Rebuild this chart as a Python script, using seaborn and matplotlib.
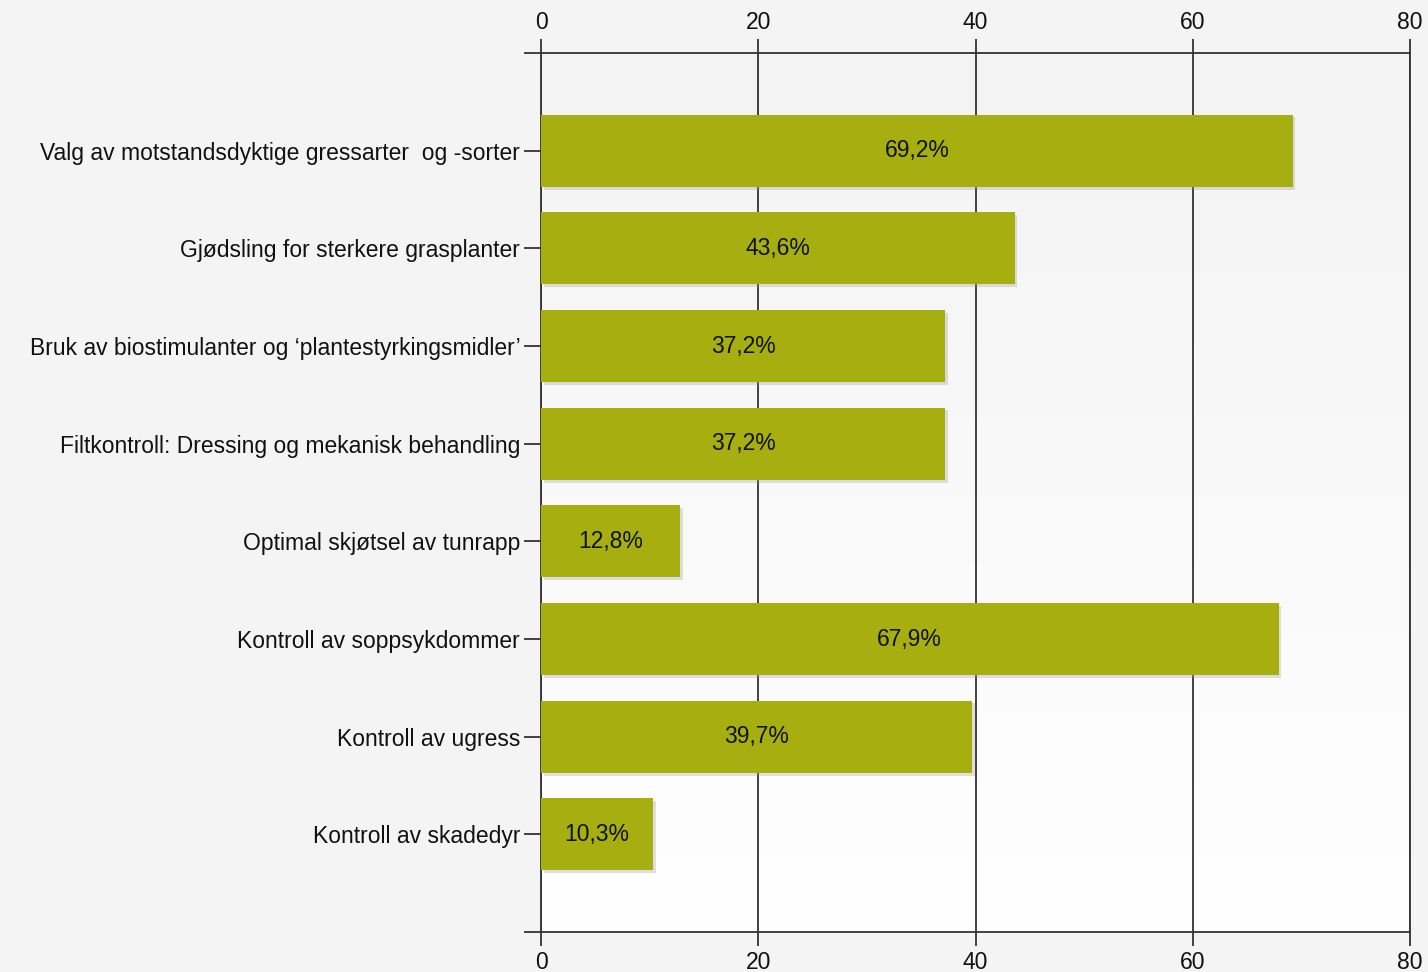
import seaborn as sns
import matplotlib.pyplot as plt
import matplotlib.patheffects as pe
import numpy as np
import pandas as pd

categories = [
    'Valg av motstandsdyktige gressarter  og -sorter',
    'Gjødsling for sterkere grasplanter',
    'Bruk av biostimulanter og \u2018plantestyrkingsmidler\u2019',
    'Filtkontroll: Dressing og mekanisk behandling',
    'Optimal skjøtsel av tunrapp',
    'Kontroll av soppsykdommer',
    'Kontroll av ugress',
    'Kontroll av skadedyr',
]
values = [69.2, 43.6, 37.2, 37.2, 12.8, 67.9, 39.7, 10.3]
xticks = [0, 20, 40, 60, 80]

df = pd.DataFrame({'category': categories, 'value': values})

sns.set_style('white')
plt.rcParams['font.family'] = ['Liberation Sans', 'DejaVu Sans']

fig = plt.figure(figsize=(14.28, 9.72), dpi=100, facecolor='#f4f4f4')
ax = fig.add_axes([541 / 1428, 1 - 932 / 972, (1410 - 541) / 1428, (932 - 53) / 972])

# background gradient of plot area (grey at top, white at bottom)
grad = np.linspace(0, 1, 256).reshape(-1, 1)
ax.imshow(grad, cmap=plt.matplotlib.colors.LinearSegmentedColormap.from_list('g', ['#f3f3f3', '#ffffff']),
          extent=(0, 80, 8, -1), aspect='auto', zorder=0)

sns.barplot(data=df, y='category', x='value', color='#a6ae10', saturation=1,
            width=0.74, ax=ax, zorder=3, edgecolor='none')

for p in ax.patches:
    p.set_path_effects([pe.SimplePatchShadow(offset=(2, -2), shadow_rgbFace='#999999', alpha=0.3),
                        pe.Normal()])

for i, v in enumerate(values):
    ax.text(v / 2, i, f'{v:.1f}%'.replace('.', ','), ha='center', va='center',
            fontsize=16.5, color='#111111', zorder=5)

ax.set_xlim(0, 80)
ax.set_ylim(8, -1)
ax.set_xticks(xticks)
ax.set_xticklabels([str(t) for t in xticks])
ax.grid(False)
for t in xticks:
    ax.axvline(t, color='#333333', lw=1.3, zorder=1)

ax.set_yticks(range(len(categories)))
ax.set_yticks([-1, 8], minor=True)
ax.set_xlabel('')
ax.set_ylabel('')

ax.tick_params(axis='x', which='both', top=True, labeltop=True, bottom=True, labelbottom=True,
               direction='out', length=10, width=1.3, color='#333333', labelsize=16.5, pad=4,
               labelcolor='#111111')
ax.tick_params(axis='y', which='both', left=True, direction='out', length=12, width=1.3,
               color='#333333', labelsize=16.5, pad=3, labelcolor='#111111')

for s in ax.spines.values():
    s.set_visible(True)
    s.set_color('#333333')
    s.set_linewidth(1.3)

fig.savefig('out.png', dpi=100, facecolor=fig.get_facecolor())
